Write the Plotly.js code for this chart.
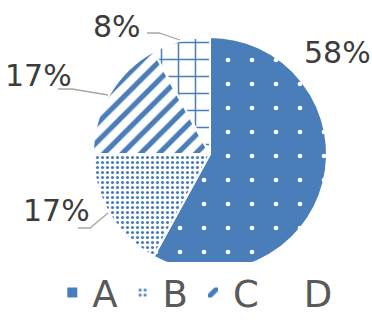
<!DOCTYPE html>
<html><head><meta charset="utf-8">
<script src="https://cdn.plot.ly/plotly-3.0.1.min.js"></script>
<style>html,body{margin:0;padding:0;background:#fff}</style>
</head><body><div id="chart" style="width:372px;height:324px"></div>
<script>
const categories = ["A", "B", "C", "D"];
const values = [58, 17, 17, 8];
const percentLabels = ["58%", "17%", "17%", "8%"];

const blue = "#4a7ebb";
const patterns = [
  {shape: ".", bgcolor: blue, fgcolor: "#ffffff", size: 24, solidity: 0.03},
  {shape: ".", bgcolor: "#ffffff", fgcolor: blue, size: 5, solidity: 0.3},
  {shape: "/", bgcolor: "#ffffff", fgcolor: blue, size: 13, solidity: 0.4},
  {shape: "+", bgcolor: "#ffffff", fgcolor: blue, size: 17, solidity: 0.17}
];

const trace = {
  type: "pie",
  labels: categories,
  values: values,
  sort: false,
  direction: "clockwise",
  rotation: 0,
  textinfo: "none",
  hoverinfo: "none",
  marker: {
    colors: [blue, "#ffffff", "#ffffff", "#ffffff"],
    pattern: {
      shape: patterns.map(p => p.shape),
      bgcolor: patterns.map(p => p.bgcolor),
      fgcolor: patterns.map(p => p.fgcolor),
      size: patterns.map(p => p.size),
      solidity: patterns.map(p => p.solidity),
      fillmode: "replace"
    },
    line: {color: "#ffffff", width: 2}
  },
  domain: {x: [93/372, 327/372], y: [(324-271)/324, (324-37)/324]}
};

const txtFont = {family: "DejaVu Sans", size: 30, color: "#3c3c3c"};
const labelPos = [
  {x: 337, y: 52},
  {x: 56, y: 210},
  {x: 38, y: 75},
  {x: 117, y: 26}
];
const annotations = percentLabels.map((t, i) => ({
  text: t, xref: "paper", yref: "paper",
  x: labelPos[i].x/372, y: 1 - labelPos[i].y/324,
  xanchor: "center", yanchor: "middle", showarrow: false, font: txtFont
}));

const lineCol = "#a6a6a6";
const px = (x) => x/372, py = (y) => 1 - y/324;
const leader = (pts) => ({
  type: "path", xref: "paper", yref: "paper",
  path: pts.map((p, i) => (i ? "L" : "M") + px(p[0]) + "," + py(p[1])).join(" "),
  line: {color: lineCol, width: 1.3}
});
const shapes = [
  leader([[147,33],[159,33],[180,40]]),
  leader([[58,89],[72,89],[108,95]]),
  leader([[78,228],[90,228],[108,213]])
];

const layout = {
  width: 372, height: 324,
  margin: {l: 0, r: 0, t: 0, b: 0, autoexpand: false},
  paper_bgcolor: "#ffffff",
  showlegend: true,
  legend: {
    orientation: "h", x: 0.525, xanchor: "center", y: 0, yanchor: "bottom",
    font: {family: "DejaVu Sans", size: 37, color: "#595959"},
    itemclick: false, itemdoubleclick: false
  },
  annotations: annotations,
  shapes: shapes
};

Plotly.newPlot("chart", [trace], layout, {staticPlot: true});
</script></body></html>
